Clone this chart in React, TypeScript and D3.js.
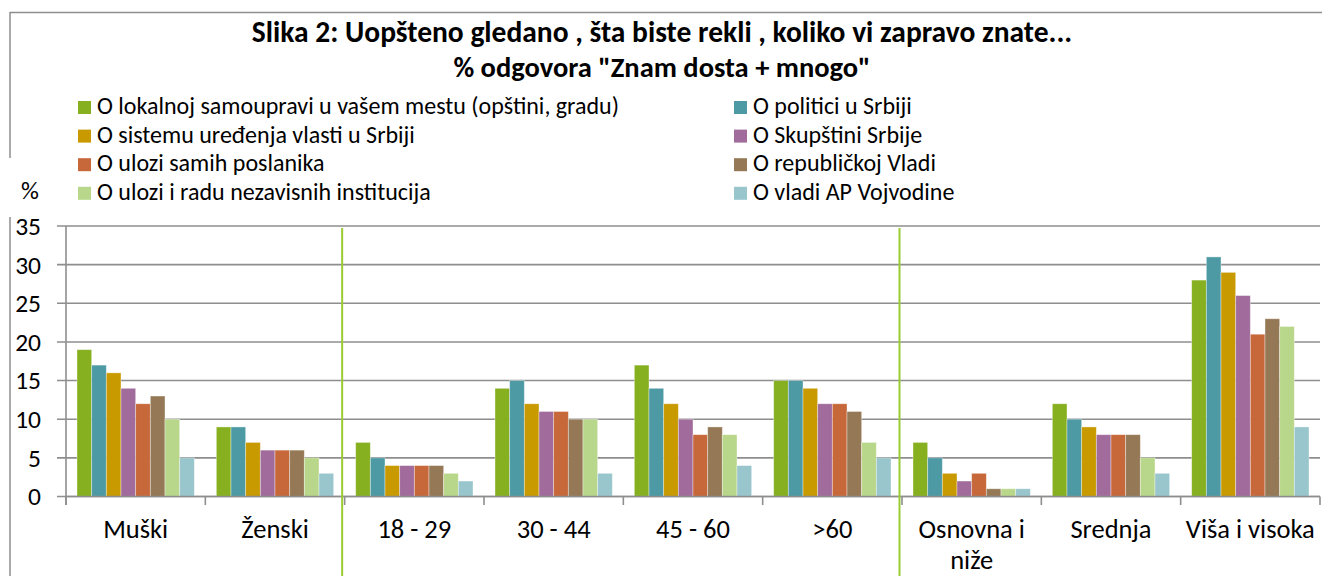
import React from "react";
import * as d3 from "d3";

const categories: string[][] = [
  ["Muški"], ["Ženski"], ["18 - 29"], ["30 - 44"], ["45 - 60"], [">60"],
  ["Osnovna i", "niže"], ["Srednja"], ["Viša i visoka"],
];

const seriesNames = [
  "O lokalnoj samoupravi u vašem mestu (opštini, gradu)",
  "O politici u Srbiji",
  "O sistemu uređenja vlasti u Srbiji",
  "O Skupštini Srbije",
  "O ulozi samih poslanika",
  "O republičkoj Vladi",
  "O ulozi i radu nezavisnih institucija",
  "O vladi AP Vojvodine",
];

const seriesColors = [
  "#87B020", "#4D9AA5", "#C89A00", "#A16C9C",
  "#C7683A", "#957956", "#B9D78A", "#98C6CC",
];

// values per series, one number per category
const lokalna = [19, 9, 7, 14, 17, 15, 7, 12, 28];
const politika = [17, 9, 5, 15, 14, 15, 5, 10, 31];
const sistem = [16, 7, 4, 12, 12, 14, 3, 9, 29];
const skupstina = [14, 6, 4, 11, 10, 12, 2, 8, 26];
const poslanici = [12, 6, 4, 11, 8, 12, 3, 8, 21];
const vlada = [13, 6, 4, 10, 9, 11, 1, 8, 23];
const institucije = [10, 5, 3, 10, 8, 7, 1, 5, 22];
const vojvodina = [5, 3, 2, 3, 4, 5, 1, 3, 9];
const values = [lokalna, politika, sistem, skupstina, poslanici, vlada, institucije, vojvodina];

const yTicks = [0, 5, 10, 15, 20, 25, 30, 35];
const separatorsAfter = [1, 5]; // after Ženski and after >60

const titleLines = [
  "Slika 2: Uopšteno gledano , šta biste rekli , koliko vi zapravo znate...",
  "% odgovora \"Znam dosta + mnogo\"",
];

const FONT = "Carlito, Calibri, Lato, 'Noto Sans', sans-serif";

export default function App() {
  const W = 1322, H = 576;
  const left = 66, right = 1320, y0 = 496.5, yTop = 226;
  const x = d3.scaleBand<number>().domain(d3.range(categories.length)).range([left, right]);
  const bw = x.bandwidth() / 9.5;
  const inner = d3.scaleBand<number>().domain(d3.range(8)).range([bw * 0.75, bw * 8.75]);
  const y = d3.scaleLinear().domain([0, 35]).range([y0, yTop]);
  const grid = "#8e8e8e";

  const legendRows = [114, 142.6, 171.2, 199.8];

  return (
    <svg width={W} height={H} style={{ display: "block", position: "absolute", left: 0, top: 0 }} fontFamily={FONT}>
      <rect x={0} y={0} width={W} height={H} fill="#fff" />
      {/* frame */}
      <line x1={10} x2={W} y1={12.5} y2={12.5} stroke={grid} strokeWidth={1.5} />
      <line x1={10} x2={10} y1={12} y2={158} stroke={grid} strokeWidth={1.5} />
      <line x1={10} x2={10} y1={217} y2={H} stroke={grid} strokeWidth={1.5} />

      {/* title */}
      {titleLines.map((t, i) => (
        <text key={i} x={662} y={42 + i * 35} textAnchor="middle" fontWeight="bold" fontSize={i === 0 ? 29.5 : 28.5} fill="#000">{t}</text>
      ))}

      {/* legend */}
      {seriesNames.map((n, i) => {
        const col = i % 2, row = Math.floor(i / 2);
        const sx = col === 0 ? 78 : 734;
        const by = legendRows[row];
        return (
          <g key={n}>
            <rect x={sx} y={by - 13} width={13} height={13} fill={seriesColors[i]} />
            <text x={sx + 19} y={by} fontSize={24} fill="#000">{n}</text>
          </g>
        );
      })}

      <text x={30} y={199} textAnchor="middle" fontSize={25} fill="#000">%</text>

      {/* gridlines & y ticks */}
      {yTicks.map((t) => (
        <g key={t}>
          <line x1={57} x2={right} y1={y(t)} y2={y(t)} stroke={grid} strokeWidth={1.6} />
          <text x={41} y={y(t)} dy="0.35em" textAnchor="end" fontSize={25.5} fill="#000">{t}</text>
        </g>
      ))}
      <line x1={left} x2={left} y1={yTop} y2={505} stroke={grid} strokeWidth={1.6} />

      {/* bars */}
      {values.map((s, si) => s.map((v, ci) => (
        <rect key={si + "-" + ci}
          x={(x(ci) as number) + (inner(si) as number)}
          y={y(v)} width={bw} height={y0 - y(v)}
          fill={seriesColors[si]} stroke="#ffffff" strokeOpacity={0.45} strokeWidth={0.8} />
      )))}

      {/* x axis */}
      <line x1={left} x2={right} y1={y0} y2={y0} stroke={grid} strokeWidth={1.6} />
      {d3.range(categories.length + 1).map((i) => {
        const xx = left + i * x.step();
        return <line key={i} x1={xx} x2={xx} y1={y0} y2={505} stroke={grid} strokeWidth={1.6} />;
      })}
      {categories.map((lines, ci) => (
        <text key={ci} x={(x(ci) as number) + x.bandwidth() / 2} y={538} textAnchor="middle" fontSize={26.5} fill="#000">
          {lines.map((l, li) => (
            <tspan key={li} x={(x(ci) as number) + x.bandwidth() / 2} y={538 + li * 31}>{l}</tspan>
          ))}
        </text>
      ))}

      {/* separators */}
      {separatorsAfter.map((ci) => {
        const xx = left + (ci + 1) * x.step() - 2.5;
        return <line key={ci} x1={xx} x2={xx} y1={228} y2={H} stroke="#99CC33" strokeWidth={2} />;
      })}
    </svg>
  );
}
